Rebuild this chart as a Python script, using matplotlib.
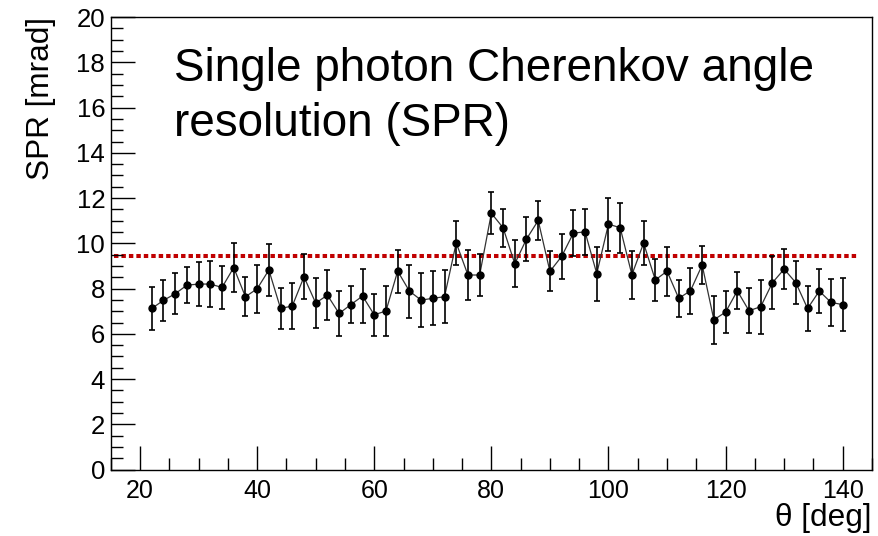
import numpy as np
import matplotlib
matplotlib.use('Agg')
import matplotlib.pyplot as plt
from matplotlib.ticker import MultipleLocator

plt.rcParams['font.family'] = ['Liberation Sans', 'DejaVu Sans']

# polar angle bins (deg)
theta = np.arange(22, 141, 2)

# SPR per bin (mrad)
spr = [7.12, 7.48, 7.77, 8.15, 8.20, 8.20, 8.05, 8.93, 7.64, 7.99,
       8.82, 7.12, 7.23, 8.52, 7.36, 7.71, 6.90, 7.29, 7.67, 6.84,
       7.01, 8.77, 7.89, 7.49, 7.57, 7.64, 10.02, 8.60, 8.60, 11.33,
       10.69, 9.10, 10.19, 11.01, 8.76, 9.42, 10.45, 10.51, 8.66, 10.85,
       10.69, 8.61, 10.01, 8.38, 8.77, 7.57, 7.90, 9.04, 6.62, 6.96,
       7.90, 7.02, 7.20, 8.26, 8.86, 8.26, 7.12, 7.89, 7.39, 7.29]

spr_err = [0.93, 0.90, 0.90, 0.79, 0.96, 1.00, 0.97, 1.10, 0.87, 1.06,
           1.14, 0.90, 1.02, 1.00, 1.10, 1.10, 1.00, 0.82, 1.18, 0.93,
           1.12, 0.95, 1.17, 1.20, 1.20, 1.18, 0.96, 1.12, 0.92, 0.92,
           0.83, 1.03, 0.97, 0.85, 0.88, 0.99, 1.02, 1.02, 1.20, 1.17,
           1.11, 1.06, 0.96, 0.92, 1.09, 0.82, 1.01, 0.84, 1.06, 0.93,
           0.82, 0.99, 1.20, 1.17, 0.89, 0.96, 1.01, 0.96, 1.04, 1.17]

# reference level (dashed red)
spr_ref = 9.45
ref_x = [15.5, 142.7]

fig = plt.figure(figsize=(8.79, 5.36), dpi=100)
ax = fig.add_axes([0.126, 0.124, 0.866, 0.844])

ax.plot(ref_x, [spr_ref, spr_ref], color='#c00000', lw=2.9,
        linestyle=(0, (1.1, 0.75)), solid_capstyle='butt', dash_capstyle='butt', zorder=1)

ax.plot(theta, spr, '-', color='#333333', lw=0.9, zorder=2)
ax.errorbar(theta, spr, yerr=spr_err, fmt='o', color='black', ms=5,
            elinewidth=1.2, capsize=2.3, capthick=1.2, zorder=3)

ax.set_xlim(15, 145)
ax.set_ylim(0, 20)
ax.xaxis.set_major_locator(MultipleLocator(20))
ax.xaxis.set_minor_locator(MultipleLocator(5))
ax.yaxis.set_major_locator(MultipleLocator(2))
ax.yaxis.set_minor_locator(MultipleLocator(0.5))
ax.tick_params(which='both', direction='in', top=False, right=False, labelsize=18, width=1)
ax.tick_params(axis='y', labelsize=18.5)
ax.tick_params(which='major', length=17)
ax.tick_params(which='minor', length=8.5)
ax.tick_params(axis='x', pad=7)
ax.tick_params(axis='y', pad=4)
for s in ax.spines.values():
    s.set_linewidth(1)

ax.set_ylabel('SPR [mrad]', fontsize=22.7, loc='top', labelpad=15)
ax.set_xlabel('θ [deg]', fontsize=22.7, loc='right', labelpad=0)

ax.text(0.083, 0.933, 'Single photon Cherenkov angle\nresolution (SPR)',
        transform=ax.transAxes, fontsize=33, va='top', ha='left', linespacing=1.3)

fig.savefig('out.png', dpi=100)
